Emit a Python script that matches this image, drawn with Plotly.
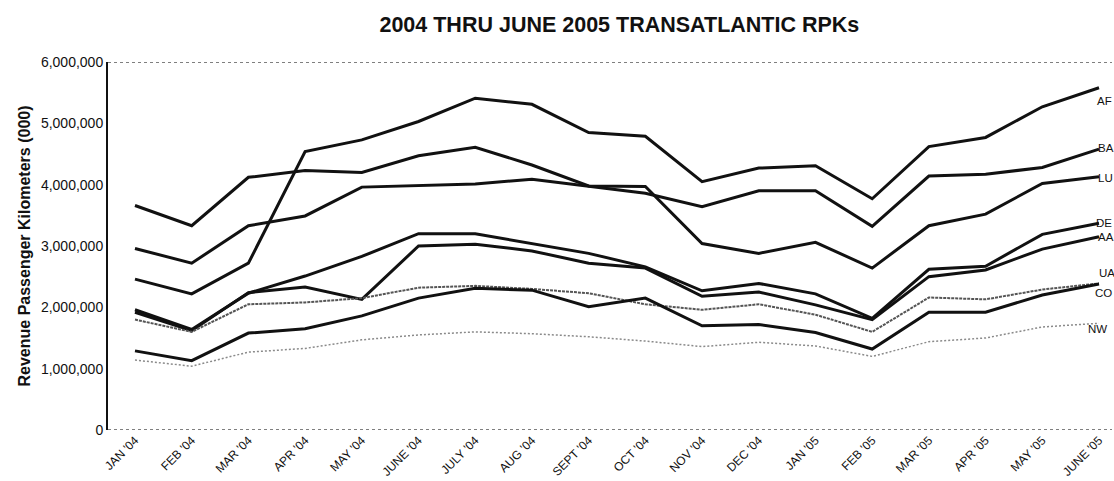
import plotly.graph_objects as go

months = ["JAN '04", "FEB '04", "MAR '04", "APR '04", "MAY '04", "JUNE '04",
          "JULY '04", "AUG '04", "SEPT '04", "OCT '04", "NOV '04", "DEC '04",
          "JAN '05", "FEB '05", "MAR '05", "APR '05", "MAY '05", "JUNE '05"]

AF = [2460000, 2220000, 2720000, 4540000, 4730000, 5030000, 5410000, 5310000, 4850000,
      4790000, 4050000, 4270000, 4310000, 3770000, 4620000, 4770000, 5270000, 5580000]
BA = [2960000, 2720000, 3330000, 3490000, 3960000, 3980000, 4010000, 4090000, 3980000,
      3860000, 3640000, 3900000, 3900000, 3320000, 4140000, 4170000, 4280000, 4580000]
LU = [3660000, 3330000, 4120000, 4230000, 4200000, 4470000, 4610000, 4320000, 3980000,
      3970000, 3040000, 2880000, 3060000, 2640000, 3330000, 3520000, 4020000, 4130000]
DE = [1960000, 1640000, 2230000, 2510000, 2830000, 3200000, 3200000, 3040000, 2880000,
      2660000, 2270000, 2390000, 2220000, 1820000, 2620000, 2670000, 3190000, 3370000]
AA = [1920000, 1620000, 2240000, 2330000, 2130000, 3000000, 3030000, 2920000, 2720000,
      2640000, 2180000, 2250000, 2040000, 1800000, 2500000, 2610000, 2950000, 3150000]
UA = [1800000, 1600000, 2050000, 2080000, 2150000, 2320000, 2350000, 2300000, 2230000,
      2050000, 1960000, 2050000, 1880000, 1600000, 2160000, 2130000, 2290000, 2390000]
CO = [1290000, 1130000, 1580000, 1650000, 1860000, 2150000, 2310000, 2280000, 2010000,
      2150000, 1700000, 1720000, 1590000, 1320000, 1920000, 1920000, 2200000, 2380000]
NW = [1140000, 1040000, 1270000, 1330000, 1470000, 1550000, 1600000, 1570000, 1520000,
      1450000, 1360000, 1430000, 1370000, 1200000, 1440000, 1500000, 1680000, 1740000]

series_names = ["AF", "BA", "LU", "DE", "AA", "UA", "CO", "NW"]
series_values = [AF, BA, LU, DE, AA, UA, CO, NW]
y_ticks = [0, 1000000, 2000000, 3000000, 4000000, 5000000, 6000000]

FONT = "Liberation Sans, Arial, Helvetica, sans-serif"

styles = {
    "AF": dict(color="#111111", width=3),
    "BA": dict(color="#111111", width=3),
    "LU": dict(color="#111111", width=3),
    "DE": dict(color="#111111", width=3),
    "AA": dict(color="#111111", width=3),
    "UA": dict(color="#555555", width=2, dash="3px,1px"),
    "CO": dict(color="#111111", width=3),
    "NW": dict(color="#8a8a8a", width=1.5, dash="2px,2px"),
}
# label offsets (pixels) relative to the final point of each line
label_shift = {
    "AF": (-4, -13), "BA": (-3, 1), "LU": (-3, -1), "DE": (-5, 0),
    "AA": (-3, 0), "UA": (-2, 10), "CO": (-6, -9), "NW": (-13, -6),
}

fig = go.Figure()
for name, vals in zip(series_names, series_values):
    fig.add_trace(go.Scatter(x=months, y=vals, mode="lines", name=name,
                             line=styles[name], showlegend=False))

annotations = []
for name, vals in zip(series_names, series_values):
    dx, dy = label_shift[name]
    annotations.append(dict(x=months[-1], y=vals[-1], xref="x", yref="y",
                            text=name, showarrow=False, xanchor="left",
                            yanchor="middle", xshift=dx, yshift=dy,
                            font=dict(family=FONT, size=11.5, color="#111111")))

fig.update_layout(
    width=1114, height=481,
    margin=dict(l=108, r=2, t=62, b=51),
    paper_bgcolor="white", plot_bgcolor="white",
    title=dict(text="<b>2004 THRU JUNE 2005 TRANSATLANTIC RPKs</b>",
               x=0.556, xanchor="center", xref="container",
               y=1 - 24 / 481, yanchor="middle", yref="container",
               font=dict(family=FONT, size=21.5, color="#111111")),
    annotations=annotations,
    shapes=[
        dict(type="line", xref="paper", yref="y", x0=0, x1=1, y0=y_ticks[-1], y1=y_ticks[-1],
             line=dict(color="#555555", width=1.5, dash="dot")),
        dict(type="line", xref="paper", yref="y", x0=0, x1=1, y0=y_ticks[0], y1=y_ticks[0],
             line=dict(color="#555555", width=1.5, dash="dot")),
    ],
)

fig.update_xaxes(type="category", range=[-0.476, 17.229], showgrid=False,
                 zeroline=False, showline=False, ticks="", tickangle=-45,
                 tickfont=dict(family=FONT, size=12, color="#111111"))
fig.update_yaxes(range=[y_ticks[0], y_ticks[-1]], tickvals=y_ticks,
                 tickformat=",", showgrid=False, zeroline=False,
                 showline=True, linecolor="#111111", linewidth=2, ticks="",
                 tickfont=dict(family=FONT, size=14, color="#111111"),
                 title=dict(text="<b>Revenue Passenger Kilometers (000)</b>", standoff=6,
                            font=dict(family=FONT, size=16, color="#111111")),
                 automargin=False)

fig.write_html("out.html", config={"displayModeBar": False},
               post_script="document.body.style.margin='0px';")
